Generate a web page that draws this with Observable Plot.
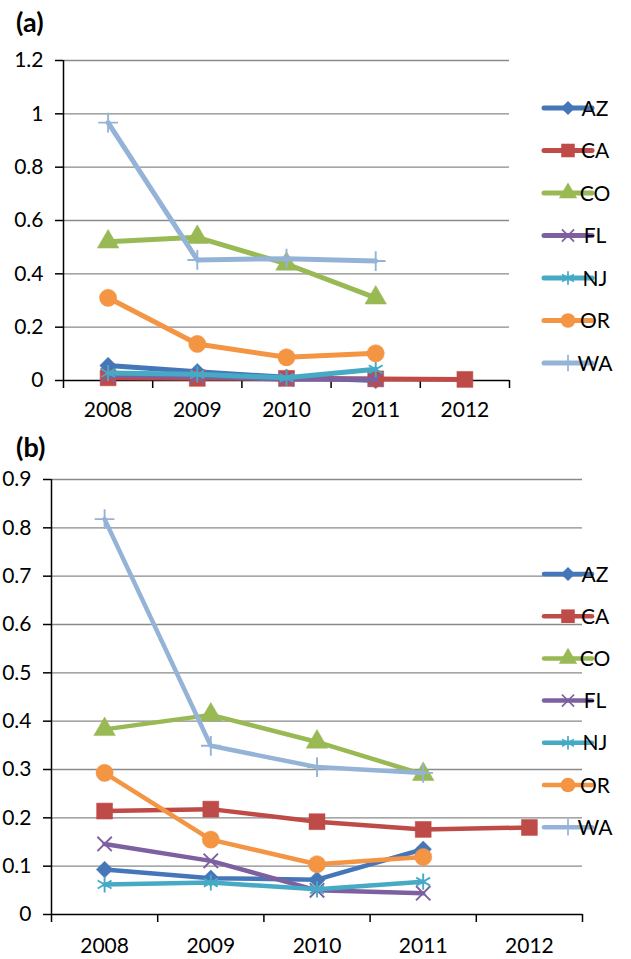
<!DOCTYPE html>
<html>
<head>
<meta charset="utf-8">
<script src="https://cdn.jsdelivr.net/npm/d3@7"></script>
<script src="https://cdn.jsdelivr.net/npm/@observablehq/plot@0.6"></script>
<style>
  html, body { margin: 0; padding: 0; background: #fff; }
  #root { position: relative; width: 631px; height: 959px; overflow: hidden; font-family: Lato, "Open Sans", sans-serif; }
  .panel { position: absolute; left: 0; }
  .tag { position: absolute; font-weight: bold; font-size: 27px; color: #000; font-family: Lato, "Open Sans", sans-serif; line-height: 1; }
</style>
</head>
<body>
<div id="root">
  <div class="tag" id="tagA" style="left:16px; top:8px;">(a)</div>
  <div class="tag" id="tagB" style="left:16px; top:433px;">(b)</div>
</div>
<script>
// ---------- data ----------
const years = [2008, 2009, 2010, 2011, 2012];
const states = ["AZ", "CA", "CO", "FL", "NJ", "OR", "WA"];
const colors = ["#4577B8", "#BE4B48", "#98B954", "#7D60A0", "#46AAC5", "#F39543", "#95B3D7"];
const symbols = ["diamond2", "square", "triangle", "times", "asterisk", "circle", "plus"];

// Panel (a) values (2008..2012, null = no data)
const aAZ = [0.056, 0.033, 0.012, 0.0, null];
const aCA = [0.010, 0.008, 0.008, 0.006, 0.004];
const aCO = [0.520, 0.537, 0.437, 0.310, null];
const aFL = [0.020, 0.015, 0.005, 0.005, null];
const aNJ = [0.028, 0.023, 0.010, 0.042, null];
const aOR = [0.310, 0.137, 0.087, 0.102, null];
const aWA = [0.967, 0.452, 0.457, 0.448, null];

// Panel (b) values
const bAZ = [0.093, 0.075, 0.072, 0.135, null];
const bCA = [0.214, 0.218, 0.192, 0.176, 0.180];
const bCO = [0.383, 0.413, 0.357, 0.290, null];
const bFL = [0.146, 0.111, 0.050, 0.044, null];
const bNJ = [0.062, 0.066, 0.052, 0.068, null];
const bOR = [0.293, 0.155, 0.104, 0.119, null];
const bWA = [0.818, 0.349, 0.305, 0.293, null];

const yTicksA = [0, 0.2, 0.4, 0.6, 0.8, 1, 1.2];
const yTicksB = [0, 0.1, 0.2, 0.3, 0.4, 0.5, 0.6, 0.7, 0.8, 0.9];
const yLabelsA = ["0", "0.2", "0.4", "0.6", "0.8", "1", "1.2"];
const yLabelsB = ["0", "0.1", "0.2", "0.3", "0.4", "0.5", "0.6", "0.7", "0.8", "0.9"];

// marker sizes (Plot r)
const markerR = {diamond2: 7.5, square: 9, triangle: 8, times: 6.6, asterisk: 7.6, circle: 8.6, plus: 6.4};
const strokeSym = new Set(["times", "asterisk", "plus"]);
const d3sym = {diamond2: d3.symbolDiamond2, square: d3.symbolSquare, triangle: d3.symbolTriangle,
  times: d3.symbolTimes, asterisk: d3.symbolAsterisk, circle: d3.symbolCircle, plus: d3.symbolPlus};

function toRows(seriesArrays) {
  return seriesArrays.map((arr, i) => arr
    .map((v, j) => ({state: states[i], year: years[j], value: v}))
    .filter(d => d.value !== null));
}

function makePanel(cfg) {
  const rows = toRows(cfg.series);
  const bounds = [2007.5, 2008.5, 2009.5, 2010.5, 2011.5, 2012.5];
  const marks = [
    Plot.ruleY(cfg.yTicks.filter(d => d > 0), {stroke: "#8a8a8a", strokeWidth: 1.4}),
    Plot.ruleY([0], {stroke: "#000", strokeWidth: 1.5}),
    Plot.ruleX([2007.5], {stroke: "#000", strokeWidth: 1.5}),
    Plot.axisY(cfg.yTicks, {tickSize: 8, tickPadding: 12, fontSize: 21, stroke: "#000", strokeWidth: 1.5,
      tickFormat: d => cfg.yLabels[cfg.yTicks.indexOf(d)], label: null}),
    Plot.axisX(bounds, {tickSize: 8, tickFormat: () => "", stroke: "#000", strokeWidth: 1.5, label: null}),
    Plot.axisX(years, {tickSize: 0, tickPadding: cfg.xPad, fontSize: 21, tickFormat: d => String(d), label: null})
  ];
  rows.forEach((data, i) => {
    const sym = symbols[i];
    marks.push(Plot.line(data, {x: "year", y: "value", stroke: colors[i], strokeWidth: cfg.lw,
      strokeLinejoin: "round", strokeLinecap: "round"}));
    if (strokeSym.has(sym)) {
      marks.push(Plot.dot(data, {x: "year", y: "value", symbol: sym, r: markerR[sym], fill: "none",
        stroke: colors[i], strokeWidth: 1.9}));
    } else {
      marks.push(Plot.dot(data, {x: "year", y: "value", symbol: sym, r: markerR[sym], fill: colors[i],
        stroke: colors[i], strokeWidth: 0.5}));
    }
  });
  const svg = Plot.plot({
    width: 631, height: cfg.height,
    marginLeft: cfg.ml, marginRight: cfg.mr, marginTop: cfg.mt, marginBottom: cfg.mb,
    x: {type: "linear", domain: [2007.5, 2012.5]},
    y: {type: "linear", domain: [0, cfg.yMax]},
    style: {fontFamily: "Lato, 'Open Sans', sans-serif", fontSize: "21px", color: "#000", background: "transparent", overflow: "visible"},
    marks
  });
  // legend
  const sel = d3.select(svg);
  const g = sel.append("g").attr("font-family", "Lato, 'Open Sans', sans-serif").attr("font-size", 21);
  states.forEach((s, i) => {
    const y = cfg.legY + i * cfg.legStep;
    const sym = symbols[i];
    g.append("line").attr("x1", cfg.legX0).attr("x2", cfg.legX1).attr("y1", y).attr("y2", y)
      .attr("stroke", colors[i]).attr("stroke-width", cfg.lw).attr("stroke-linecap", "round");
    const r = markerR[sym] * 0.85;
    const p = g.append("path").attr("transform", `translate(${(cfg.legX0 + cfg.legX1) / 2},${y})`)
      .attr("d", d3.symbol(d3sym[sym], Math.PI * r * r)());
    if (strokeSym.has(sym)) p.attr("fill", "none").attr("stroke", colors[i]).attr("stroke-width", 1.7);
    else p.attr("fill", colors[i]);
    g.append("text").attr("x", cfg.legX1 + 3).attr("y", y).attr("dy", "0.36em").attr("fill", "#000").text(s);
  });
  svg.classList.add("panel");
  return svg;
}

const root = document.getElementById("root");
const svgA = makePanel({
  series: [aAZ, aCA, aCO, aFL, aNJ, aOR, aWA], yTicks: yTicksA, yLabels: yLabelsA, yMax: 1.2,
  height: 430, ml: 63, mr: 122, mt: 60, mb: 50, xPad: 22, lw: 5,
  legY: 108, legStep: 42.5, legX0: 544, legX1: 592
});
svgA.style.top = "0px";
root.appendChild(svgA);

const svgB = makePanel({
  series: [bAZ, bCA, bCO, bFL, bNJ, bOR, bWA], yTicks: yTicksB, yLabels: yLabelsB, yMax: 0.9,
  height: 529, ml: 51, mr: 49, mt: 49, mb: 45, xPad: 24, lw: 4.5,
  legY: 144, legStep: 42.2, legX0: 544, legX1: 592
});
svgB.style.top = "430px";
root.appendChild(svgB);
</script>
</body>
</html>
